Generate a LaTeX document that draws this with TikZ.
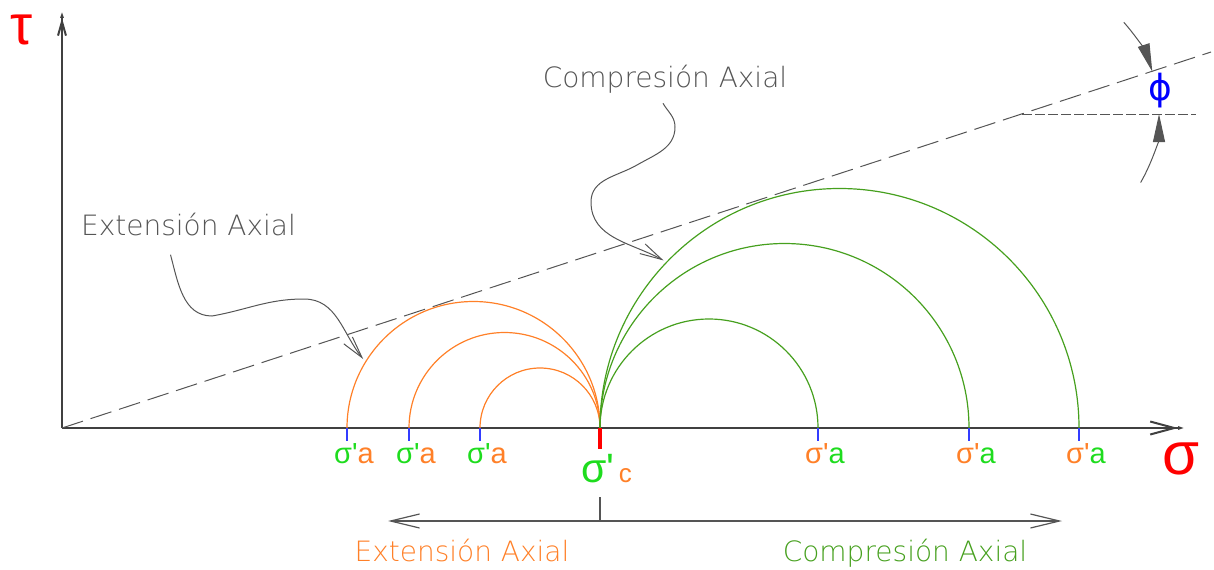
\documentclass[tikz,border=0pt]{standalone}
\usepackage{fontspec}
\usetikzlibrary{arrows.meta,calc}
\setmainfont{Liberation Sans}
\newfontfamily\cadfont{DejaVu Sans ExtraLight}
\newfontfamily\greekfont[Ligatures=TeXOff]{Liberation Sans}
\newfontfamily\phifont{DejaVu Sans}
\definecolor{cadorange}{RGB}{255,128,40}
\definecolor{cadgreen}{RGB}{70,160,30}
\definecolor{ligreen}{RGB}{30,220,30}
\definecolor{tickblue}{RGB}{50,60,255}
\definecolor{leadgray}{RGB}{85,85,85}
\begin{document}
\begin{tikzpicture}[x=0.5pt,y=0.5pt,
    envelope/.style={leadgray,line width=0.5pt,dash pattern=on 11pt off 4pt},
    leader/.style={leadgray,line width=0.5pt,-{Straight Barb[length=11pt,width=5.5pt]}},
    dimarc/.style={leadgray,line width=0.5pt,-{Triangle[length=14pt,width=6pt]}},
    cadtext/.style={font=\cadfont\fontsize{14}{14}\selectfont,anchor=base,inner sep=0pt},
    sig/.style={font=\greekfont\fontsize{14.5}{14.5}\selectfont,anchor=base,inner sep=0pt}]
  \useasboundingbox (-62,-141) rectangle (1152,428);
  % axes
  \coordinate (O) at (0,0);
  \coordinate (sc) at (538,0);
  \draw[black!75,line width=1pt,-{Straight Barb[length=7pt,width=4pt]Latex[length=4pt,width=2pt]}] (O) -- (0,418);
  \draw[black!75,line width=1pt,-{Straight Barb[length=12pt,width=6.5pt]Latex[length=4pt,width=2pt]}] (O) -- (1124,0);
  \node[text=red,font=\greekfont\fontsize{28}{28}\selectfont] (tau) at (-40,398) {τ};
  \node[text=red,font=\greekfont\fontsize{30}{30}\selectfont] (sigma) at (1119,-31) {σ};
  % envelope and angle
  \coordinate (I) at (960,314);
  \draw[envelope] (O) -- (1149,376);
  \draw[leadgray,line width=0.5pt,dash pattern=on 5pt off 1.5pt] (I) -- (1134,314);
  \draw[dimarc] ($(I)+(42:137)$) arc[start angle=42,end angle=18,radius=137];
  \draw[dimarc] ($(I)+(-30:137)$) arc[start angle=-30,end angle=0,radius=137];
  \node[text=blue,font=\phifont\fontsize{18}{18}\selectfont] (phi) at (1098,337) {ϕ};
  % extension circles
  \foreach \a/\n in {285/1,347/2,418/3}{
    \draw[cadorange,line width=0.6pt] (\a,0) arc[start angle=180,end angle=0,radius={(538-\a)/2}];
    \draw[tickblue,line width=0.9pt] (\a,0) -- (\a,-13);
    \node[sig] (sa\n) at (\a+7,-35) {\textcolor{ligreen}{σ'}\textcolor{cadorange}{a}};
  }
  % compression circles
  \foreach \b/\n in {756/4,907/5,1017/6}{
    \draw[cadgreen,line width=0.6pt] (sc) arc[start angle=180,end angle=0,radius={(\b-538)/2}];
    \draw[tickblue,line width=0.9pt] (\b,0) -- (\b,-13);
    \node[sig] (sa\n) at (\b+7,-35) {\textcolor{cadorange}{σ'}\textcolor{ligreen}{a}};
  }
  \draw[red,line width=2pt] (sc) -- ++(0,-21);
  \node[anchor=base west,inner sep=0pt,font=\greekfont] (sigc) at (519,-54)
    {\textcolor{ligreen}{\fontsize{20.5}{20.5}\selectfont σ'}\textcolor{cadorange}{\fontsize{13}{13}\selectfont\,c}};
  % leaders
  \node[cadtext,text=leadgray] (extLbl) at (126.5,192.3) {Extensión Axial};
  \node[cadtext,text=leadgray] (cmpLbl) at (603,340.7) {Compresión Axial};
  \coordinate (extTip) at ($(411.5,0)+(148:130)$);
  \coordinate (cmpTip) at ($(777.5,0)+(136.4:243)$);
  \draw[leader] ($(extLbl.base)+(-18,-19)$) to[out=-75,in=180] (150,112)
    to[out=10,in=180] (242,129) to[out=0,in=129] (extTip);
  \draw[leader] ($(cmpLbl.base)+(-2,-16)$) to[out=-60,in=90] (613,301)
    to[out=-90,in=30] (575,263) to[out=-150,in=90] (529,226) to[out=-90,in=151] (cmpTip);
  % bottom arrows
  \coordinate (arrL) at (326,-93);
  \coordinate (arrR) at (1000,-93);
  \draw[leadgray,line width=0.6pt] ($(sc)+(0,-69)$) -- (sc |- arrL);
  \draw[leadgray,line width=0.6pt,{Straight Barb[length=14.5pt,width=7pt]}-{Straight Barb[length=14.5pt,width=7pt]}] (arrL) -- (arrR);
  \node[cadtext,text=cadorange] (extBot) at (400,-133.5) {Extensión Axial};
  \node[cadtext,text=cadgreen] (cmpBot) at (843,-133.5) {Compresión Axial};
\end{tikzpicture}
\end{document}
